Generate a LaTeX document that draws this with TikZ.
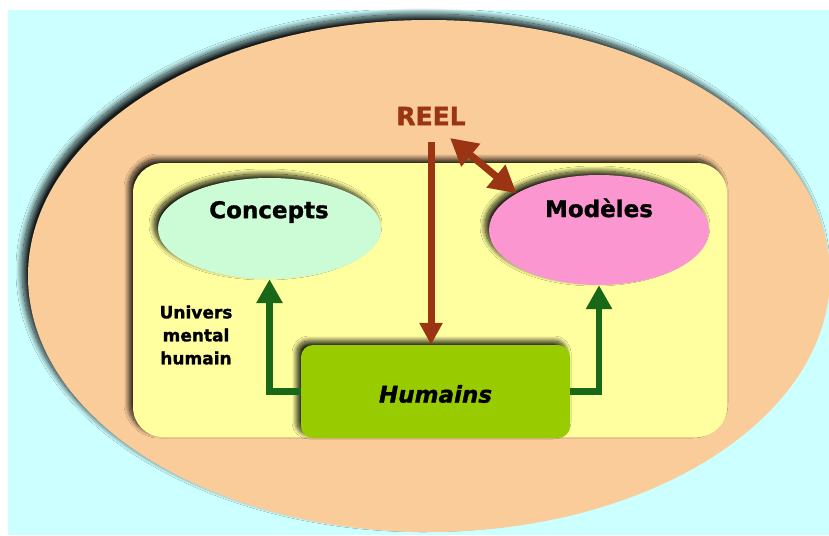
\documentclass[tikz,border=0pt]{standalone}
\usepackage{fontspec}
\setmainfont{DejaVu Sans}[BoldFeatures={FakeBold=1.3},BoldItalicFeatures={FakeBold=1.3}]
\usetikzlibrary{shapes.geometric,arrows.meta,shadows.blur}
\definecolor{bgcyan}{HTML}{CCFFFF}
\definecolor{peach}{HTML}{FACC99}
\definecolor{paleyellow}{HTML}{FFFF9F}
\definecolor{mint}{HTML}{CCFCD6}
\definecolor{pink}{HTML}{FC96D0}
\definecolor{lime}{HTML}{99CC00}
\definecolor{darkgreen}{HTML}{186818}
\definecolor{rust}{HTML}{9A3412}
\begin{document}
\begin{tikzpicture}[x=1pt,y=-1pt,
  shad/.style={blur shadow={shadow xshift=-4pt,shadow yshift=4pt,shadow blur radius=5pt,shadow blur steps=20,shadow opacity=90}},
  bigshad/.style={blur shadow={shadow xshift=-6pt,shadow yshift=6pt,shadow blur radius=6pt,shadow blur steps=20,shadow opacity=90}},
  oval/.style={ellipse,inner sep=0pt,shad},
  lab/.style={font=\bfseries\fontsize{23}{27}\selectfont,text=black,inner sep=0pt},
  garrow/.style={draw=darkgreen,line width=6.5pt,-{Triangle[width=25pt,length=24pt]}},
  rarrow/.style={draw=rust,line width=7pt,-{Triangle[width=22pt,length=22pt]}},
  darrow/.style={draw=rust,line width=7pt,{Triangle[width=28pt,length=27pt]}-{Triangle[width=28pt,length=27pt]}}]
\useasboundingbox (0,0) rectangle (829,535);
\fill[bgcyan] (8,10) rectangle (829,535);
\node[ellipse,inner sep=0pt,minimum width=802pt,minimum height=512pt,fill=peach,bigshad] (reelzone) at (429,276) {};
\node[rectangle,rounded corners=30pt,inner sep=0pt,minimum width=594pt,minimum height=274pt,fill=paleyellow,shad] (mental) at (430,300) {};
\node[oval,minimum width=223pt,minimum height=101pt,fill=mint] (concepts) at (269.5,228.5) {};
\node[oval,minimum width=220pt,minimum height=110pt,fill=pink] (modeles) at (599,230) {};
\node[rectangle,rounded corners=12pt,inner sep=0pt,minimum width=269pt,minimum height=93pt,fill=lime,shad] (humains) at (435.5,391.5) {};
\node[lab] (conceptsT) at (269,212) {Concepts};
\node[lab] (modelesT) at (599,208) {Modèles};
\node[lab,font=\bfseries\itshape\fontsize{23}{27}\selectfont] (humainsT) at (435.5,394) {Humains};
\node[font=\bfseries\fontsize{25}{30}\selectfont,text=rust,inner sep=0pt] (reel) at (431,116) {REEL};
\node[font=\bfseries\fontsize{17}{23}\selectfont,align=center,inner sep=0pt] (universT) at (196,335) {Univers\\mental\\humain};
\coordinate (rs) at (431,142);
\coordinate (ds) at (450,138);
\draw[rarrow] (rs) -- (rs |- humains.north);
\draw[darrow] (ds) -- (modeles.156);
\draw[garrow] (humains.west) -| (concepts.south);
\draw[garrow] (humains.east) -| (modeles.south);
\end{tikzpicture}
\end{document}
